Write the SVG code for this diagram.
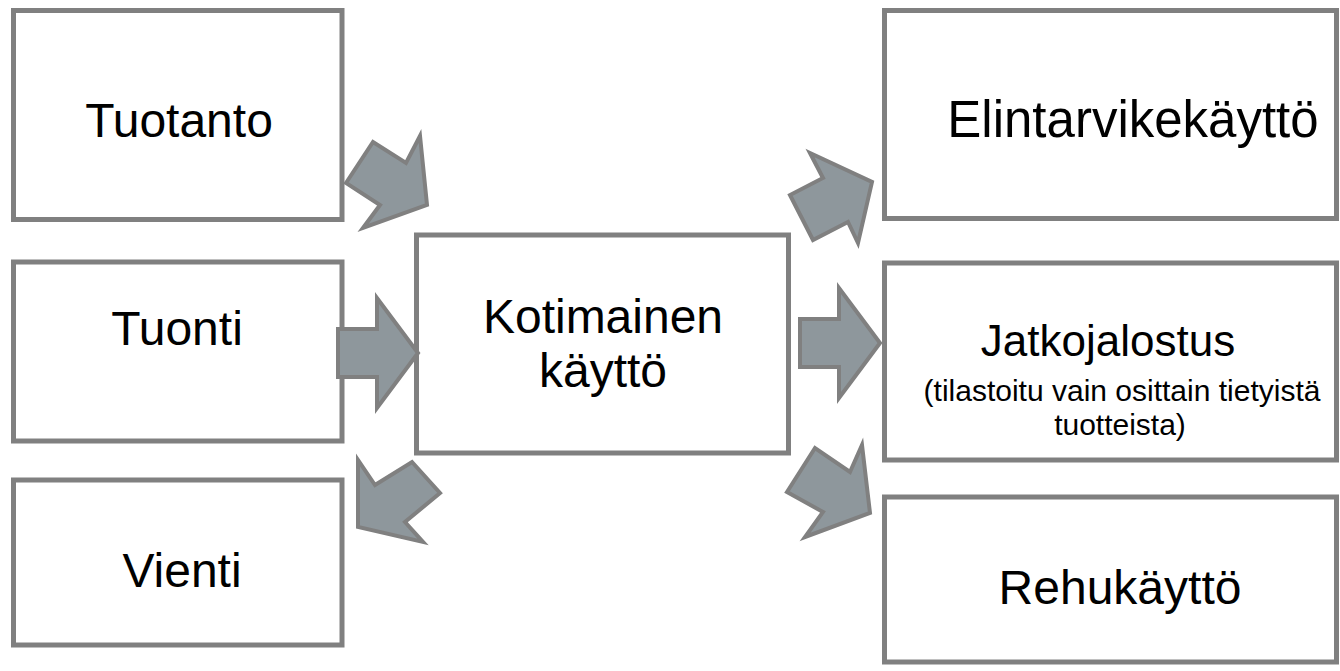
<svg xmlns="http://www.w3.org/2000/svg" width="1340" height="671" viewBox="0 0 1340 671">
<style>
.box{fill:#fff;stroke:#808080;stroke-width:5}
.arr{fill:#8e979c;stroke:#808080;stroke-width:4;stroke-linejoin:miter}
text{font-family:"Liberation Sans",Arial,sans-serif;fill:#000;text-anchor:middle}
.t{font-size:48px}
.j{font-size:44px}
.s{font-size:30px}
</style>
<rect width="1340" height="671" fill="#fff"/>
<g id="tuotanto"><rect class="box" x="13.5" y="10.5" width="328.5" height="209"/><text class="t" x="179" y="137">Tuotanto</text></g>
<g id="tuonti"><rect class="box" x="13.5" y="262" width="328.5" height="179"/><text class="t" x="177" y="345">Tuonti</text></g>
<g id="vienti"><rect class="box" x="13.5" y="480" width="328.5" height="165"/><text class="t" x="182" y="587">Vienti</text></g>
<g id="kotimainen"><rect class="box" x="416.5" y="235" width="372" height="218"/><text class="t" x="603" y="333">Kotimainen</text><text class="t" x="603" y="387">käyttö</text></g>
<g id="elintarvike"><rect class="box" x="884.5" y="10.5" width="452" height="208"/><text class="t" x="1133" y="137" style="font-size:51px">Elintarvikekäyttö</text></g>
<g id="jatkojalostus"><rect class="box" x="884.5" y="263" width="452" height="197"/><text class="j" x="1108" y="356">Jatkojalostus</text><text class="s" x="1122" y="401">(tilastoitu vain osittain tietyistä</text><text class="s" x="1120" y="435">tuotteista)</text></g>
<g id="rehu"><rect class="box" x="884.5" y="497" width="452" height="165"/><text class="t" x="1120" y="604">Rehukäyttö</text></g>
<g id="connectors">
<polygon class="arr" points="346,183 373,142 406,163 420,136 427,205 363,228 380,205"/>
<polygon class="arr" points="338,329 377,329 377,298 418,353 377,408 377,377 338,377"/>
<polygon class="arr" points="358,527 358,460 375,485 412,462 440,493 405,522 423,542"/>
<polygon class="arr" points="810,153 823,178 790,195 813,240 848,222 858,243 872,182"/>
<polygon class="arr" points="800,319 839,319 839,288 880,343 839,398 839,367 800,367"/>
<polygon class="arr" points="787,492 815,448 850,472 862,445 870,513 805,537 823,512"/>
</g>
</svg>
